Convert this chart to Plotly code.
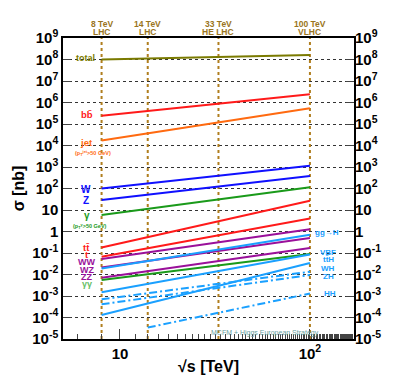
import numpy as np
import plotly.graph_objects as go

# sqrt(s) end points of the curves [TeV]
sqrt_s = [8, 100]
sqrt_s_hh = [14, 100]

# cross sections [nb] at the end points
xs_total = [1.0e8, 1.6e8]
xs_bb = [2.4e5, 2.4e6]
xs_jet = [1.7e4, 5.4e5]
xs_w = [100, 1150]
xs_z = [29.5, 380]
xs_gamma = [5.9, 114]
xs_tt = [0.18, 27]
xs_t = [0.067, 4.0]
xs_ww = [0.052, 1.26]
xs_wz = [0.021, 0.50]
xs_zz = [0.0071, 0.17]
xs_gamgam = [0.0055, 0.089]
xs_ggh = [0.019, 0.70]
xs_vbf = [0.0015, 0.085]
xs_tth = [1.3e-4, 0.034]
xs_wh = [7.0e-4, 0.0135]
xs_zh = [4.1e-4, 0.0095]
xs_hh = [3.4e-5, 1.3e-3]

colliders = [8, 14, 33, 100]
collider_energy = ["8 TeV", "14 TeV", "33 TeV", "100 TeV"]
collider_names = ["LHC", "LHC", "HE LHC", "VLHC"]

y_decades = list(range(-5, 10))
x_tickvals = [10, 100]
x_ticktext = ["10", "10<sup>2</sup>"]

OLIVE = "#7a7a00"
RED = "#ff1a1a"
ORANGE = "#ff6a10"
BLUE = "#1010ff"
GREEN = "#1a9a1a"
PURPLE = "#9a109a"
HBLUE = "#1aa0ff"
GOLD = "#b07e1e"
FONT = "Liberation Sans, Arial, sans-serif"


def ytext(k):
    if k == 0:
        return "1"
    if k == 1:
        return "10"
    return f"10<sup>{k}</sup>"


y_tickvals = [10.0 ** k for k in y_decades]
y_ticktext = [ytext(k) for k in y_decades]

# the page body has an 8px margin, so shrink the figure by that much
PAD = 8
W, H = 394 - PAD, 386 - PAD
# plot area in page pixels (for placing labels)
L, R, T, B = 63, 354, 38, 339


def paper(px, py):
    return (px - L) / (R - L), (B - py) / (B - T)


fig = go.Figure()

# collider lines
for e in colliders:
    fig.add_trace(go.Scatter(x=[e, e], y=[y_tickvals[0], y_tickvals[-1]], mode="lines",
                             line=dict(color=GOLD, width=2, dash="dot"), hoverinfo="skip"))

curves = [
    (sqrt_s, xs_total, OLIVE, "solid"),
    (sqrt_s, xs_bb, RED, "solid"),
    (sqrt_s, xs_jet, ORANGE, "solid"),
    (sqrt_s, xs_w, BLUE, "solid"),
    (sqrt_s, xs_z, BLUE, "solid"),
    (sqrt_s, xs_gamma, GREEN, "solid"),
    (sqrt_s, xs_tt, RED, "solid"),
    (sqrt_s, xs_t, RED, "solid"),
    (sqrt_s, xs_ww, PURPLE, "solid"),
    (sqrt_s, xs_wz, PURPLE, "solid"),
    (sqrt_s, xs_zz, PURPLE, "solid"),
    (sqrt_s, xs_gamgam, GREEN, "solid"),
    (sqrt_s, xs_ggh, HBLUE, "solid"),
    (sqrt_s, xs_vbf, HBLUE, "solid"),
    (sqrt_s, xs_tth, HBLUE, "solid"),
    (sqrt_s, xs_wh, HBLUE, "8px,3px,2px,3px"),
    (sqrt_s, xs_zh, HBLUE, "8px,3px,2px,3px"),
    (sqrt_s_hh, xs_hh, HBLUE, "8px,3px,2px,3px"),
]
for xs_x, xs_y, col, dash in curves:
    fig.add_trace(go.Scatter(x=xs_x, y=xs_y, mode="lines",
                             line=dict(color=col, width=2, dash=dash)))

# dummy trace so the right-hand axis is drawn
fig.add_trace(go.Scatter(x=[sqrt_s[0]], y=[xs_w[0]], yaxis="y2", mode="markers",
                         marker=dict(opacity=0), hoverinfo="skip"))


def label(txt, px, py, col, size, bold=True):
    xp, yp = paper(px, py)
    fig.add_annotation(x=xp, y=yp, xref="paper", yref="paper", text=txt, showarrow=False,
                       xanchor="center", yanchor="middle",
                       font=dict(color=col, size=size, family=FONT,
                                 weight="bold" if bold else "normal"))


labels = [
    ("total", 85, 58, OLIVE, 9),
    ("bb\u0304", 86.5, 114, RED, 9.5),
    ("jet", 86.5, 142, ORANGE, 9.5),
    ("(p<sub>T</sub><sup>jet</sup>>50 GeV)", 93, 153, ORANGE, 5.5),
    ("W", 86, 189, BLUE, 10),
    ("Z", 86, 200, BLUE, 10),
    ("\u03b3", 86.5, 215, GREEN, 10),
    ("(p<sub>T</sub><sup>\u03b3</sup>>50 GeV)", 90, 226, GREEN, 5.5),
    ("tt\u0304", 86, 247, RED, 9.5),
    ("t", 86.5, 255, RED, 9.5),
    ("WW", 86.5, 262, PURPLE, 9),
    ("WZ", 86.5, 269.5, PURPLE, 9),
    ("ZZ", 86.5, 277, PURPLE, 9),
    ("\u03b3\u03b3", 86.5, 284, "#66c066", 9),
    ("gg\u2192H", 327, 232, HBLUE, 8),
    ("VBF", 328, 252.5, HBLUE, 8),
    ("tt\u0304H", 328, 260, HBLUE, 8),
    ("WH", 328, 268.5, HBLUE, 8),
    ("ZH", 328, 276.5, HBLUE, 8),
    ("HH", 330, 293.5, HBLUE, 8),
]
for txt, px, py, col, size in labels:
    label(txt, px, py, col, size)

for e, energy, name in zip(colliders, collider_energy, collider_names):
    for txt, py in ((energy, 24), (name, 32.5)):
        fig.add_annotation(x=np.log10(e), y=paper(0, py)[1], xref="x", yref="paper", text=txt,
                           showarrow=False, xanchor="center", yanchor="middle",
                           font=dict(color="#9a7420", size=8.5, family=FONT, weight="bold"))

label("MCFM + Higgs European Strategy", 265, 333, "#6aa0a0", 7, bold=False)

yaxis_common = dict(
    type="log", range=[-5, 9], tickmode="array", tickvals=y_tickvals, ticktext=y_ticktext,
    ticks="inside", ticklen=8, tickcolor="#444", tickwidth=1, automargin=False,
    tickfont=dict(size=15, family=FONT, weight="bold", color="black"),
    minor=dict(ticks="inside", ticklen=4, tickcolor="#888", showgrid=False),
)

fig.update_layout(
    width=W, height=H,
    margin=dict(l=L - PAD, r=394 - R, t=T - PAD, b=386 - B),
    plot_bgcolor="white", paper_bgcolor="white",
    showlegend=False,
    font=dict(family=FONT, color="black"),
    xaxis=dict(type="log", range=[0.7, 2.232], tickmode="array", tickvals=x_tickvals,
               ticktext=x_ticktext, ticks="inside", ticklen=10, tickcolor="#444",
               minor=dict(ticks="inside", ticklen=5, tickcolor="#444", showgrid=False),
               showgrid=False, showline=True, linecolor="black", linewidth=1.5, mirror=True,
               zeroline=False, automargin=False,
               tickfont=dict(size=15, family=FONT, weight="bold"),
               title=dict(text="\u221as [TeV]", font=dict(size=16, family=FONT, weight="bold"),
                          standoff=0)),
    yaxis=dict(**yaxis_common, showgrid=True, gridcolor="#333", griddash="dot", gridwidth=1,
               showline=True, linecolor="black", linewidth=1.5, mirror=True, zeroline=False,
               title=dict(text="\u03c3 [nb]", font=dict(size=16, family=FONT, weight="bold"),
                          standoff=4)),
    yaxis2=dict(**yaxis_common, overlaying="y", side="right", showgrid=False, showline=False,
                zeroline=False),
)

fig.write_html("out.html")
